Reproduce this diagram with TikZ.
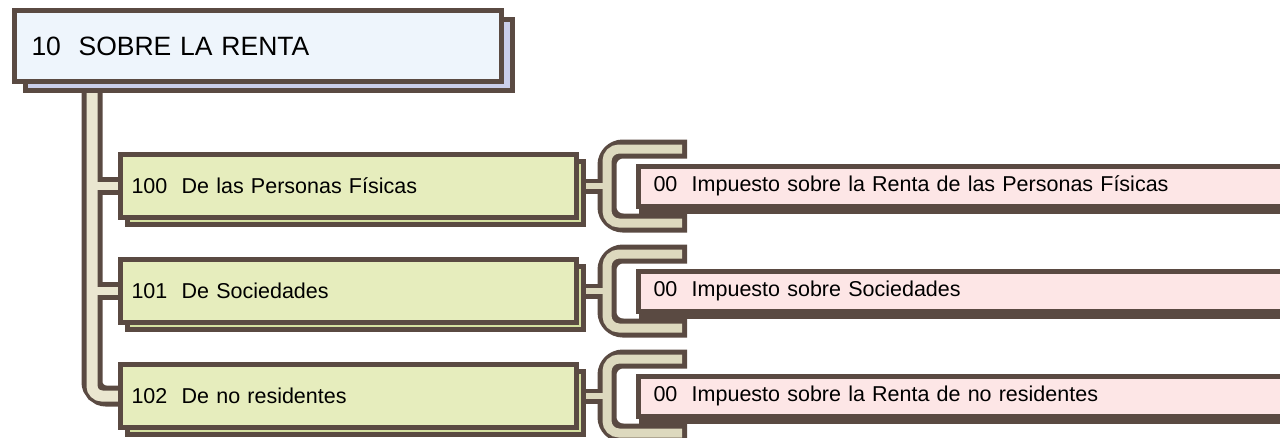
\documentclass[tikz,border=0pt]{standalone}
\usepackage{fontspec}
\setmainfont{Liberation Sans}
\usetikzlibrary{positioning,calc,shadows,backgrounds}
\definecolor{edge}{RGB}{90,74,66}
\definecolor{bluefill}{RGB}{238,245,252}
\definecolor{blueshade}{RGB}{202,206,234}
\definecolor{greenfill}{RGB}{230,237,189}
\definecolor{greenshade}{RGB}{212,224,160}
\definecolor{pinkfill}{RGB}{253,230,230}
\definecolor{pipefill}{RGB}{234,230,208}
\definecolor{clampfill}{RGB}{221,217,190}
\tikzset{
  box/.style={draw=edge, line width=5pt, anchor=north west, align=left, inner ysep=0pt},
  topbox/.style={box, fill=bluefill, minimum height=71pt, text width=453pt, inner xsep=17pt,
    font=\fontsize{26.5}{30}\selectfont,
    general shadow={fill=blueshade, draw=edge, line width=5pt, shadow xshift=11pt, shadow yshift=-9pt}},
  codebox/.style={box, fill=greenfill, minimum height=63pt, text width=434pt, inner xsep=11pt,
    font=\fontsize{21.5}{25}\selectfont,
    general shadow={fill=greenshade, draw=edge, line width=5pt, shadow xshift=7pt, shadow yshift=-7pt}},
  taxbox/.style={box, anchor=west, fill=pinkfill, minimum height=40pt, text width=668pt, inner xsep=15pt,
    font=\fontsize{21.5}{25}\selectfont,
    general shadow={fill=edge, draw=edge, line width=5pt, shadow xshift=3pt, shadow yshift=-5pt}},
  pipeout/.style={draw=edge, line width=21pt, rounded corners=14pt},
  pipein/.style={draw=pipefill, line width=11pt, rounded corners=10pt},
  branchout/.style={draw=edge, line width=18pt},
  branchin/.style={draw=pipefill, line width=8pt},
  clampout/.style={draw=edge, line width=19pt, rounded corners=16pt},
  clampin/.style={draw=clampfill, line width=9pt, rounded corners=12pt},
  stubout/.style={draw=edge, line width=15pt},
  stubin/.style={draw=clampfill, line width=6pt}
}
\begin{document}
\begin{tikzpicture}[x=1pt, y=-1pt]
  \clip (0,0) rectangle (1280,437);
  % boxes
  \node[topbox] (renta) at (12,8) {10\ \ SOBRE LA RENTA};
  \node[codebox] (fisicas) at (118,152) {100\ \ De las Personas Físicas};
  \node[codebox] (sociedades) at (118,257) {101\ \ De Sociedades};
  \node[codebox] (noresid) at (118,362) {102\ \ De no residentes};
  \node[taxbox, right=57pt of fisicas] (irpf) {00\ \ Impuesto sobre la Renta de las Personas Físicas};
  \node[taxbox, right=57pt of sociedades] (is) {00\ \ Impuesto sobre Sociedades};
  \node[taxbox, right=57pt of noresid] (irnr) {00\ \ Impuesto sobre la Renta de no residentes};
  \coordinate (root) at (92,80);
  % pipes behind the boxes
  \begin{scope}[on background layer]
    \draw[pipeout] (root) |- (noresid.west);
    \draw[branchout] (root |- fisicas.west) -- (fisicas.west);
    \draw[branchout] (root |- sociedades.west) -- (sociedades.west);
    \foreach \g in {fisicas,sociedades,noresid}{
      \draw[stubout] (\g.east) -- ++(30,0);
      \draw[clampout] ($(\g.east)+(108,-37)$) -| ($(\g.east)+(28,37)$) -- ($(\g.east)+(108,37)$);
    }
    \draw[pipein] (root) |- (noresid.west);
    \draw[branchin] (root |- fisicas.west) -- (fisicas.west);
    \draw[branchin] (root |- sociedades.west) -- (sociedades.west);
    \foreach \g in {fisicas,sociedades,noresid}{
      \draw[stubin] (\g.east) -- ++(30,0);
      \draw[clampin] ($(\g.east)+(103,-37)$) -| ($(\g.east)+(28,37)$) -- ($(\g.east)+(103,37)$);
    }
  \end{scope}
\end{tikzpicture}
\end{document}
